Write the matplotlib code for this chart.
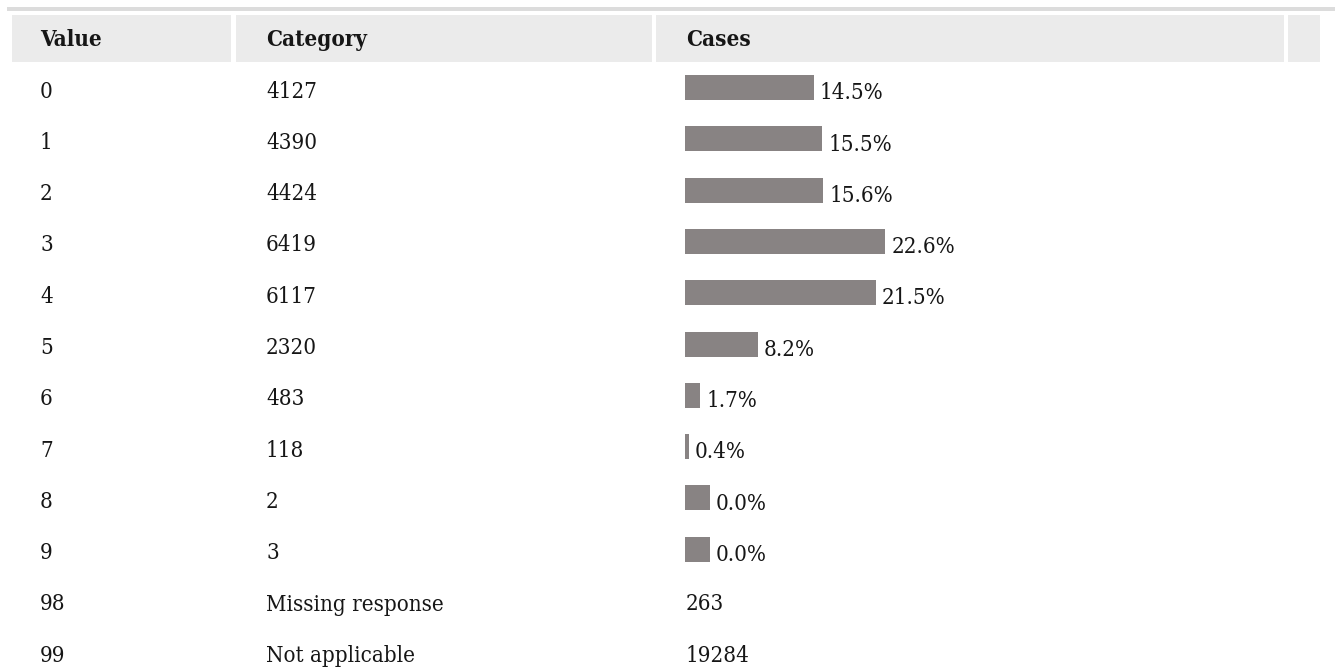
import matplotlib.pyplot as plt
from matplotlib.patches import Rectangle

# datos de la tabla
values = ["0", "1", "2", "3", "4", "5", "6", "7", "8", "9", "98", "99"]
categories = ["4127", "4390", "4424", "6419", "6117", "2320", "483", "118", "2", "3",
              "Missing response", "Not applicable"]
pct = [14.5, 15.5, 15.6, 22.6, 21.5, 8.2, 1.7, 0.4, 0.0, 0.0]
pct_labels = ["14.5%", "15.5%", "15.6%", "22.6%", "21.5%", "8.2%", "1.7%", "0.4%", "0.0%", "0.0%"]
# las barras de 0.0% se ven como un cuadrado de ancho minimo
bar_len = [14.5, 15.5, 15.6, 22.6, 21.5, 8.2, 1.7, 0.4, 2.8, 2.8]
cases_text = {10: "263", 11: "19284"}
headers = ["Value", "Category", "Cases"]

W, H = 1335, 671
fig = plt.figure(figsize=(W / 100, H / 100), dpi=100)
ax = fig.add_axes([0, 0, 1, 1])
ax.set_xlim(0, W)
ax.set_ylim(H, 0)
ax.axis("off")

font = dict(family="DejaVu Serif", fontstretch="condensed", fontsize=16, color="#161616")

# linea gris superior
ax.add_patch(Rectangle((7, 7), W - 7, 3.5, color="#dcdcdc", lw=0))

# celdas del encabezado
cells = [(12, 231), (236, 652), (656, 1284), (1288, 1320)]
for x0, x1 in cells:
    ax.add_patch(Rectangle((x0, 15), x1 - x0, 47, color="#ebebeb", lw=0))

col_x = [40, 266, 686]
for x, h in zip(col_x, headers):
    ax.text(x, 46, h, va="baseline", ha="left", fontweight="bold", **font)

base0, step = 97.5, 51.3
scale = 8.87  # px por punto porcentual
bar_x = 685
for i in range(len(values)):
    b = base0 + i * step
    ax.text(col_x[0], b, values[i], va="baseline", ha="left", **font)
    ax.text(col_x[1], b, categories[i], va="baseline", ha="left", **font)
    if i < len(pct):
        w = bar_len[i] * scale
        ax.barh(b - 10, w, height=25, left=bar_x, color="#888383", lw=0)
        ax.text(bar_x + w + 6, b + 1.8, pct_labels[i], va="baseline", ha="left", **font)
    else:
        ax.text(col_x[2], b, cases_text[i], va="baseline", ha="left", **font)

fig.savefig("out.png", dpi=100)
